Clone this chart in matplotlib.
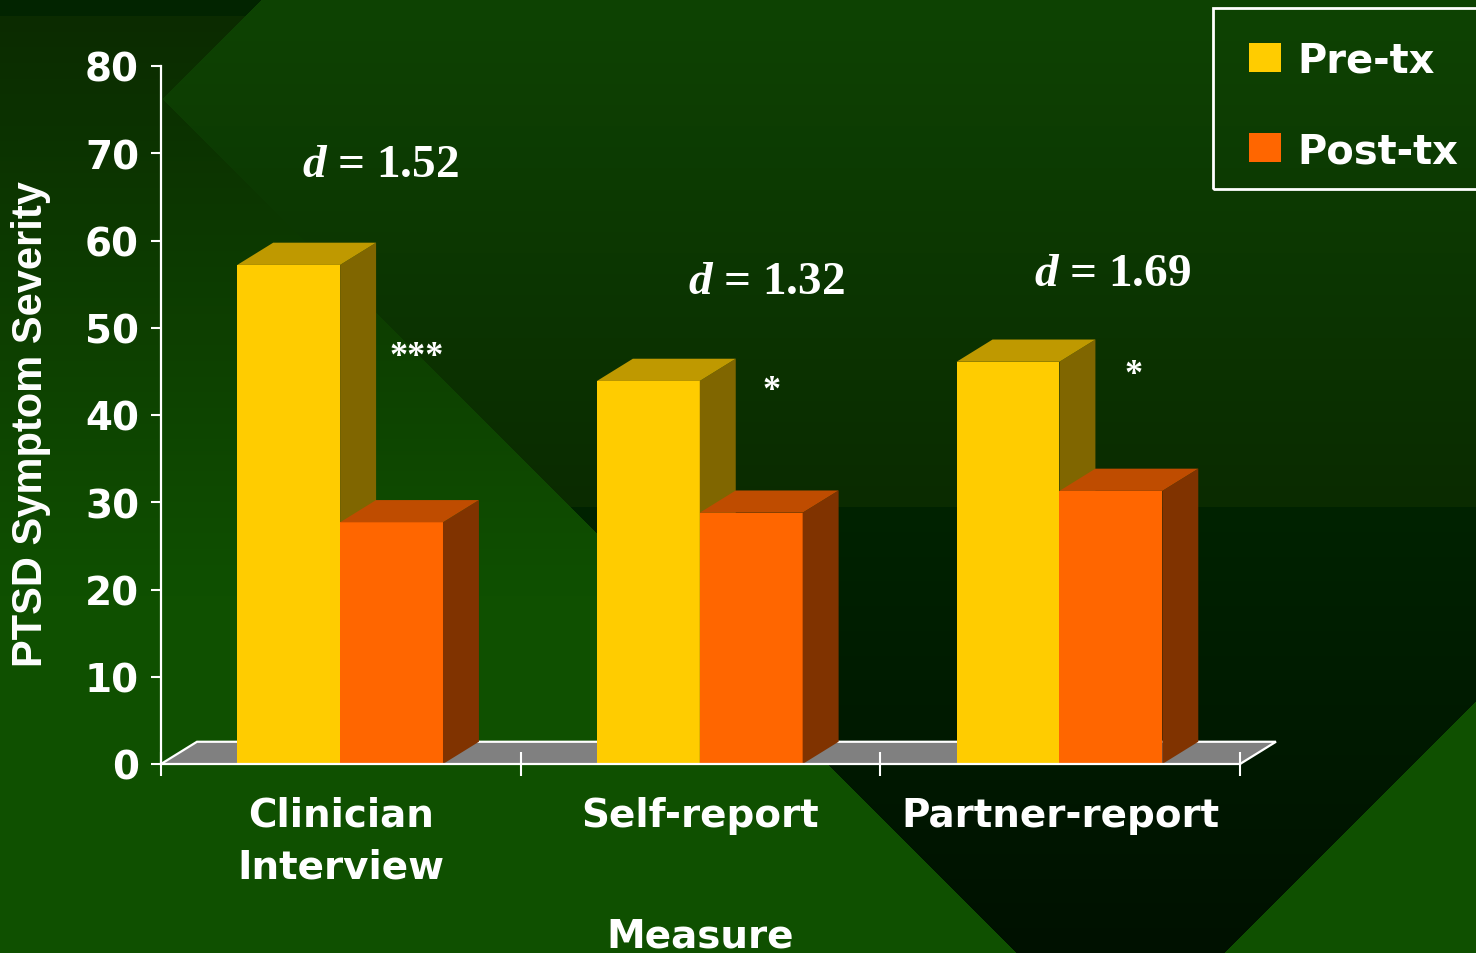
import numpy as np
import matplotlib
matplotlib.use('Agg')
import matplotlib.pyplot as plt
from matplotlib.patches import Polygon, Rectangle

# ---------------- data ----------------
categories = ['Clinician\nInterview', 'Self-report', 'Partner-report']
series_names = ['Pre-tx', 'Post-tx']
pre_tx = [57.2, 43.9, 46.1]
post_tx = [27.7, 28.8, 31.3]
effect_sizes = ['1.52', '1.32', '1.69']
significance = ['***', '*', '*']
y_ticks = [0, 10, 20, 30, 40, 50, 60, 70, 80]
y_label = 'PTSD Symptom Severity'
x_label = 'Measure'

# ---------------- styles / layout ----------------
front_colors = ['#FFCC00', '#FF6600']
top_colors = ['#BF9900', '#BF4C00']
side_colors = ['#806600', '#803300']
floor_color = '#808080'

W, H, DPI = 1476, 954, 100
plt.rcParams['mathtext.fontset'] = 'custom'
plt.rcParams['mathtext.it'] = 'Liberation Serif:italic:bold'
plt.rcParams['mathtext.rm'] = 'Liberation Serif:bold'

fig = plt.figure(figsize=(W / DPI, H / DPI), dpi=DPI)


def fx(x):
    return x / W


def fy(y):
    return 1 - y / H


def hex2rgb(h):
    h = h.lstrip('#')
    return np.array([int(h[i:i + 2], 16) / 255 for i in (0, 2, 4)])


def lerp(c0, c1, t):
    t = np.clip(t, 0, 1)[..., None]
    return hex2rgb(c0) * (1 - t) + hex2rgb(c1) * t


# ---------------- background (slide design) ----------------
yy, xx = np.mgrid[0:H, 0:W] + 0.5
gradA = lerp('#0b2b00', '#0f5000', (yy - 17) / 580)
gradA[yy < 17] = hex2rgb('#022400')
gradB = np.where((yy < 508)[..., None],
                 lerp('#0e4303', '#0a2b00', yy / 508),
                 lerp('#002300', '#001100', (yy - 508) / 446))
regA = (xx + yy < 263) | (yy > xx - 63)
regC = (xx + yy > 2178)
img = np.where(regA[..., None], gradA, gradB)
img[regC] = hex2rgb('#0f5000')

bg = fig.add_axes([0, 0, 1, 1])
bg.imshow(img, extent=[0, W, H, 0], aspect='auto', interpolation='nearest')
bg.axis('off')
bg.set_zorder(0)

# ---------------- main axes ----------------
ax = fig.add_axes([fx(161), fy(765), (1240 - 161) / W, (765 - 67) / H])
ax.set_facecolor('none')
ax.set_zorder(1)
ax.set_xlim(0, 3)
ax.set_ylim(0, 80)

bar_w = 0.286
bar_start = 0.212
ddx, ddy = 0.1, 2.55

# floor
ax.add_patch(Polygon([(0, 0), (3, 0), (3 + ddx, ddy), (ddx, ddy)], closed=True,
                     fc=floor_color, ec='none', clip_on=False, zorder=1))
ax.plot([0, ddx, 3 + ddx, 3], [0, ddy, ddy, 0], color='white', lw=1.6,
        clip_on=False, zorder=2, solid_joinstyle='miter')

# bars
for i in range(len(categories)):
    for s, vals in enumerate([pre_tx, post_tx]):
        v = vals[i]
        x0 = i + bar_start + s * bar_w
        x1 = x0 + bar_w
        z = 3 + s
        ax.add_patch(Rectangle((x0, 0), bar_w, v, fc=front_colors[s], ec='none',
                               clip_on=False, zorder=z))
        ax.add_patch(Polygon([(x1, 0), (x1 + ddx, ddy), (x1 + ddx, v + ddy), (x1, v)],
                             closed=True, fc=side_colors[s], ec='none',
                             clip_on=False, zorder=z))
        ax.add_patch(Polygon([(x0, v), (x0 + ddx, v + ddy), (x1 + ddx, v + ddy), (x1, v)],
                             closed=True, fc=top_colors[s], ec='none',
                             clip_on=False, zorder=z))

# spines / ticks
for side in ['top', 'right']:
    ax.spines[side].set_visible(False)
for side in ['left', 'bottom']:
    ax.spines[side].set_color('white')
    ax.spines[side].set_linewidth(1.6)
    ax.spines[side].set_zorder(10)

ax.set_xticks([0, 1, 2, 3])
ax.set_xticklabels([])
ax.tick_params(axis='x', which='major', direction='inout', length=17, width=1.5,
               color='white')
ax.set_xticks([0.5, 1.5, 2.5], minor=True)
labs = ax.set_xticklabels(categories, minor=True, fontsize=28, fontweight='bold',
                          color='white')
for t in labs:
    t.set_linespacing(1.45)
ax.tick_params(axis='x', which='minor', length=0, pad=23)

ax.set_yticks(y_ticks)
ax.set_yticklabels([str(t) for t in y_ticks], fontsize=28, fontweight='bold',
                   color='white')
ax.tick_params(axis='y', direction='out', length=7.2, width=1.5, color='white',
               pad=8.6)

ax.set_ylabel(y_label, family='Liberation Sans', fontweight='bold', fontsize=30,
              color='white', va='center')
ax.yaxis.set_label_coords((31 - 161) / 1079, (765 - 424) / 698)
ax.set_xlabel(x_label, fontsize=28, fontweight='bold', color='white', va='top')
ax.xaxis.set_label_coords((700 - 161) / 1079, (765 - 917) / 698)

# effect size labels
d_pos = [(380, 177), (766, 294), (1113, 286)]
for (px, py), d in zip(d_pos, effect_sizes):
    fig.text(fx(px), fy(py), f'$d$ = {d}', family='Liberation Serif',
             fontweight='bold', fontsize=34, color='white', ha='center',
             va='baseline')

# significance stars
star_pos = [(417, 366), (772, 400), (1134, 384)]
for (px, py), s in zip(star_pos, significance):
    fig.text(fx(px), fy(py), s, family='Liberation Serif', fontweight='bold',
             fontsize=26, color='white', ha='center', va='baseline')

# legend (frame extends past the right edge as in the slide)
fig.patches.append(Rectangle((fx(1213), fy(190)), (1500 - 1213) / W, (190 - 9) / H,
                             transform=fig.transFigure, fill=False, ec='white',
                             lw=2, zorder=5))
leg_rows = [(44, 73), (134, 163)]
for (top, bot), name, c in zip(leg_rows, series_names, front_colors):
    fig.patches.append(Rectangle((fx(1249), fy(bot)), 32 / W, (bot - top) / H,
                                 transform=fig.transFigure, fc=c, ec='none',
                                 zorder=5))
    fig.text(fx(1297), fy(bot), name, fontsize=28.8, fontweight='bold',
             color='white', ha='left', va='baseline')

fig.savefig('out.png', dpi=DPI)
